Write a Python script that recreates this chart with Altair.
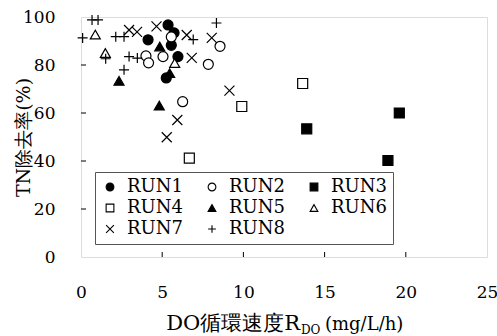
import altair as alt
import pandas as pd

runs = ["RUN1", "RUN2", "RUN3", "RUN4", "RUN5", "RUN6", "RUN7", "RUN8"]

run1_x = [4.13, 5.36, 5.73, 5.56, 5.97, 5.25]
run1_y = [90.5, 96.7, 93.4, 88.2, 83.5, 74.6]

run2_x = [4.00, 4.16, 5.05, 5.56, 6.26, 7.84, 8.56]
run2_y = [83.8, 80.9, 83.5, 91.7, 64.7, 80.3, 87.8]

run3_x = [13.9, 19.6, 18.9]
run3_y = [53.4, 60.0, 40.2]

run4_x = [13.65, 9.9, 6.67]
run4_y = [72.3, 62.7, 41.2]

run5_x = [4.85, 5.46, 4.82, 2.34]
run5_y = [87.7, 76.6, 63.1, 73.4]

run6_x = [0.88, 1.50, 5.77]
run6_y = [92.7, 85.0, 80.8]

run7_x = [2.96, 3.45, 4.65, 6.51, 8.05, 6.82, 9.14, 5.93, 5.28]
run7_y = [94.6, 93.8, 96.1, 92.5, 91.3, 83.0, 69.3, 57.1, 49.9]

run8_x = [0.68, 1.05, 0.10, 2.14, 2.65, 1.52, 2.96, 3.47, 2.65, 6.91, 8.34]
run8_y = [98.8, 98.8, 91.3, 91.8, 91.8, 82.6, 83.5, 82.9, 78.0, 90.6, 97.5]

x_ticks = [0, 5, 10, 15, 20, 25]
y_ticks = [0, 20, 40, 60, 80, 100]

series = [
    ("RUN1", run1_x, run1_y), ("RUN2", run2_x, run2_y),
    ("RUN3", run3_x, run3_y), ("RUN4", run4_x, run4_y),
    ("RUN5", run5_x, run5_y), ("RUN6", run6_x, run6_y),
    ("RUN7", run7_x, run7_y), ("RUN8", run8_x, run8_y),
]
rows = []
for name, xs, ys in series:
    for xv, yv in zip(xs, ys):
        rows.append({"run": name, "x": xv, "y": yv})
df = pd.DataFrame(rows)

X_PATH = "M-1,-1L1,1M-1,1L1,-1"
PLUS_PATH = "M-1,0L1,0M0,-1L0,1"
shapes = ["circle", "circle", "square", "square", "triangle-up", "triangle-up", X_PATH, PLUS_PATH]
fills = ["black", "white", "black", "white", "black", "white", "transparent", "transparent"]
strokes = ["black"] * 8

serif = "DejaVu Serif, serif"
W, H = 406, 240

legend = alt.Legend(
    title=None, orient="none", legendX=14, legendY=155, columns=3,
    direction="horizontal",
    strokeColor="#555", fillColor="white", padding=6,
    labelFont=serif, labelFontSize=18, labelColor="black", labelOffset=8,
    columnPadding=20, rowPadding=3, symbolSize=60,
    symbolStrokeColor="black", symbolStrokeWidth=1.1,
)

xscale = alt.Scale(domain=[0, 25], nice=False, zero=True)
yscale = alt.Scale(domain=[0, 100], nice=False)

points = alt.Chart(df).mark_point(strokeWidth=1.2, opacity=1, size=100).encode(
    x=alt.X("x:Q", scale=xscale, axis=alt.Axis(
        values=x_ticks, ticks=False, tickSize=0, domain=False, grid=False,
        labelPadding=27, title=None, labelFont=serif, labelFontSize=17,
        labelColor="black", labelFlush=False)),
    y=alt.Y("y:Q", scale=yscale, axis=alt.Axis(
        values=y_ticks, ticks=False, tickSize=0, domain=False, grid=False,
        labelPadding=26, labelFont=serif, labelFontSize=17, labelColor="black",
        labelFlush=False, title="TN除去率(%)", titleFont=serif, titleFontSize=19,
        titleFontWeight="normal", titleColor="black", titleAngle=270,
        titleX=-58, titleY=120, titleAlign="center", titleBaseline="middle")),
    shape=alt.Shape("run:N", scale=alt.Scale(domain=runs, range=shapes), legend=legend),
    fill=alt.Fill("run:N", scale=alt.Scale(domain=runs, range=fills), legend=legend),
    stroke=alt.Stroke("run:N", scale=alt.Scale(domain=runs, range=strokes), legend=legend),
)

xt = alt.Chart(pd.DataFrame({"x": x_ticks[1:-1]})).mark_rule(color="black", strokeWidth=1).encode(
    x=alt.X("x:Q"), y=alt.value(H), y2=alt.value(H - 5))
yt = alt.Chart(pd.DataFrame({"y": y_ticks[1:-1]})).mark_rule(color="black", strokeWidth=1).encode(
    y=alt.Y("y:Q"), x=alt.value(0), x2=alt.value(5))

t1 = alt.Chart(pd.DataFrame({"t": ["DO循環速度R"]})).mark_text(
    align="right", baseline="alphabetic", font=serif, fontSize=21, color="black").encode(
    x=alt.value(219), y=alt.value(313), text="t:N")
t2 = alt.Chart(pd.DataFrame({"t": ["DO"]})).mark_text(
    align="left", baseline="alphabetic", font=serif, fontSize=12, color="black").encode(
    x=alt.value(220), y=alt.value(317), text="t:N")
t3 = alt.Chart(pd.DataFrame({"t": ["(mg/L/h)"]})).mark_text(
    align="left", baseline="alphabetic", font=serif, fontSize=18, color="black").encode(
    x=alt.value(244), y=alt.value(313), text="t:N")

chart = alt.layer(points, xt, yt, t1, t2, t3).properties(
    width=W, height=H,
    autosize=alt.AutoSizeParams(type="none"),
    padding={"left": 81, "top": 17, "right": 10, "bottom": 79},
).configure_view(stroke="black", strokeWidth=2).configure(background="white", font=serif)

chart.save("out.html", embed_options={"renderer": "svg", "actions": False})
